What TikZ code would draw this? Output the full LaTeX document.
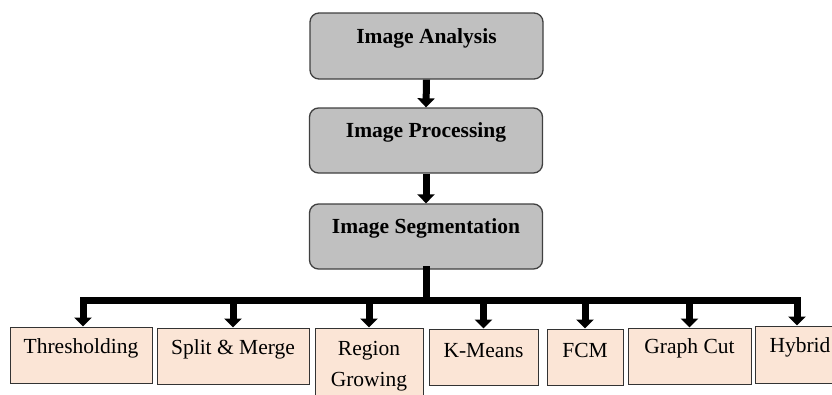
\documentclass[tikz,border=0pt]{standalone}
\usepackage{fontspec}
\setmainfont{Liberation Serif}
\usetikzlibrary{arrows.meta}
\definecolor{boxgray}{HTML}{C0C0C0}
\definecolor{peach}{HTML}{FBE5D6}
\begin{document}
\begin{tikzpicture}[x=1pt,y=-1pt,
  topbox/.style={draw=black!75, line width=1.3pt, fill=boxgray, rounded corners=9pt, minimum width=233pt, minimum height=66pt, inner sep=0pt},
  botbox/.style={draw=black!80, line width=1pt, fill=peach, inner sep=0pt},
  toptext/.style={font=\fontsize{21.5}{24}\selectfont\bfseries, inner sep=0pt},
  bottext/.style={font=\fontsize{21.5}{31}\selectfont, inner sep=0pt, align=center},
  thickarrow/.style={line width=7pt, -{Triangle[width=17pt,length=9pt]}},
  barline/.style={line width=7pt, line cap=rect}
]
\useasboundingbox (0,0) rectangle (832,394);
\clip (0,0) rectangle (832,394);

% top chain
\node[topbox] (ana) at (426.5,46) {};
\node[topbox, minimum height=65pt] (proc) at (426,140.5) {};
\node[topbox, minimum height=65pt] (seg) at (426,236.5) {};
\node[toptext] (anaT) at ([yshift=-26pt]ana.north) {Image Analysis};
\node[toptext] (procT) at ([yshift=-25pt]proc.north) {Image Processing};
\node[toptext] (segT) at ([yshift=-25pt]seg.north) {Image Segmentation};

% bottom boxes
\node[botbox, minimum width=142pt, minimum height=56pt] (thr) at (81,355) {};
\node[botbox, minimum width=152pt, minimum height=56pt] (spl) at (233,356) {};
\node[botbox, minimum width=108pt, minimum height=74pt] (reg) at (369,365) {};
\node[botbox, minimum width=109pt, minimum height=56pt] (kme) at (483.5,357) {};
\node[botbox, minimum width=76pt, minimum height=56pt] (fcm) at (585,357) {};
\node[botbox, minimum width=123pt, minimum height=56pt] (gcu) at (689.5,356) {};
\node[botbox, minimum width=90pt, minimum height=57pt] (hyb) at (800,354.5) {};

\node[bottext] (thrT) at ([yshift=-22pt]thr.north) {Thresholding};
\node[bottext] (splT) at ([yshift=-22pt]spl.north) {Split \& Merge};
\node[bottext] (regT) at ([yshift=-38.5pt]reg.north) {Region\\Growing};
\node[bottext] (kmeT) at ([yshift=-22pt]kme.north) {K-Means};
\node[bottext] (fcmT) at ([yshift=-22pt]fcm.north) {FCM};
\node[bottext] (gcuT) at ([yshift=-21pt]gcu.north) {Graph Cut};
\node[bottext] (hybT) at ([yshift=-22pt]hyb.north) {Hybrid};

% connectors
\draw[thickarrow] (ana.south) -- (proc.north);
\draw[thickarrow] (proc.south) -- (seg.north);

\coordinate (barY) at (0,300);
\draw[barline] (seg.south) -- (seg.south |- barY);
\draw[barline] ([xshift=2pt]thr.north |- barY) -- ([xshift=-3pt]hyb.north |- barY);
\draw[thickarrow] ([xshift=2pt]thr.north |- barY) -- ([xshift=2pt]thr.north);
\draw[thickarrow] (spl.north |- barY) -- (spl.north);
\draw[thickarrow] (reg.north |- barY) -- (reg.north);
\draw[thickarrow] (kme.north |- barY) -- (kme.north);
\draw[thickarrow] (fcm.north |- barY) -- (fcm.north);
\draw[thickarrow] (gcu.north |- barY) -- (gcu.north);
\draw[thickarrow] ([xshift=-3pt]hyb.north |- barY) -- ([xshift=-3pt]hyb.north);
\end{tikzpicture}
\end{document}
